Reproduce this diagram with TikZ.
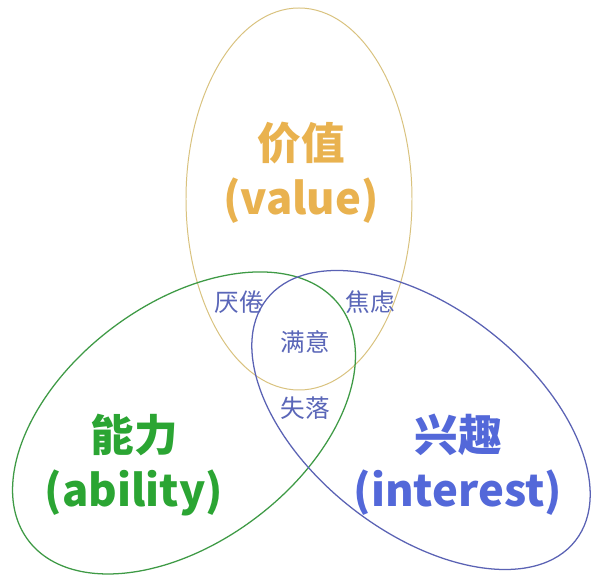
\documentclass[tikz,border=0pt]{standalone}
\usepackage{fontspec}
\usepackage{tikz}
\usetikzlibrary{positioning}
\newfontfamily\cjk{Noto Sans CJK SC}
\definecolor{VennGold}{HTML}{E9B24F}
\definecolor{VennGoldLine}{HTML}{D9C27E}
\definecolor{VennGreen}{HTML}{2BA533}
\definecolor{VennGreenLine}{HTML}{3E9A45}
\definecolor{VennBlue}{HTML}{5368D9}
\definecolor{VennBlueLine}{HTML}{5A62B4}
\definecolor{VennInk}{HTML}{5A66B8}

\begin{document}
\begin{tikzpicture}[x=0.025cm, y=0.025cm,
    every node/.style={font=\cjk},
    title/.style={font=\cjk\bfseries\fontsize{31}{39}\selectfont, align=center},
    zone/.style={font=\cjk\fontsize{17.5}{20}\selectfont, text=VennInk}]
    \useasboundingbox[fill=white] (0,0) rectangle (600,578);

    % circle centres
    \coordinate (value) at (299,379);
    \coordinate (ability) at (184,155);
    \coordinate (interest) at (421,158);

    \draw[VennGoldLine, line width=0.7pt] (value) ellipse [x radius=113, y radius=191];
    \draw[VennGreenLine, line width=0.9pt, rotate around={37:(ability)}] (ability) ellipse [x radius=195, y radius=119];
    \draw[VennBlueLine, line width=0.9pt, rotate around={-38:(interest)}] (interest) ellipse [x radius=196, y radius=112];

    \node[title, text=VennGold] (valuelbl) at (301,405) {价值\\(value)};
    \node[title, text=VennGreen] (abilitylbl) at (134,113) {能力\\(ability)};
    \node[title, text=VennBlue] (interestlbl) at (458,113) {兴趣\\(interest)};

    \node[zone] (bored) at (239,276) {厌倦};
    \node[zone] (anxious) at (370,276) {焦虑};
    \node[zone] (content) at (305,236) {满意};
    \node[zone] (lost) at (305,170) {失落};
  \end{tikzpicture}
\end{document}
